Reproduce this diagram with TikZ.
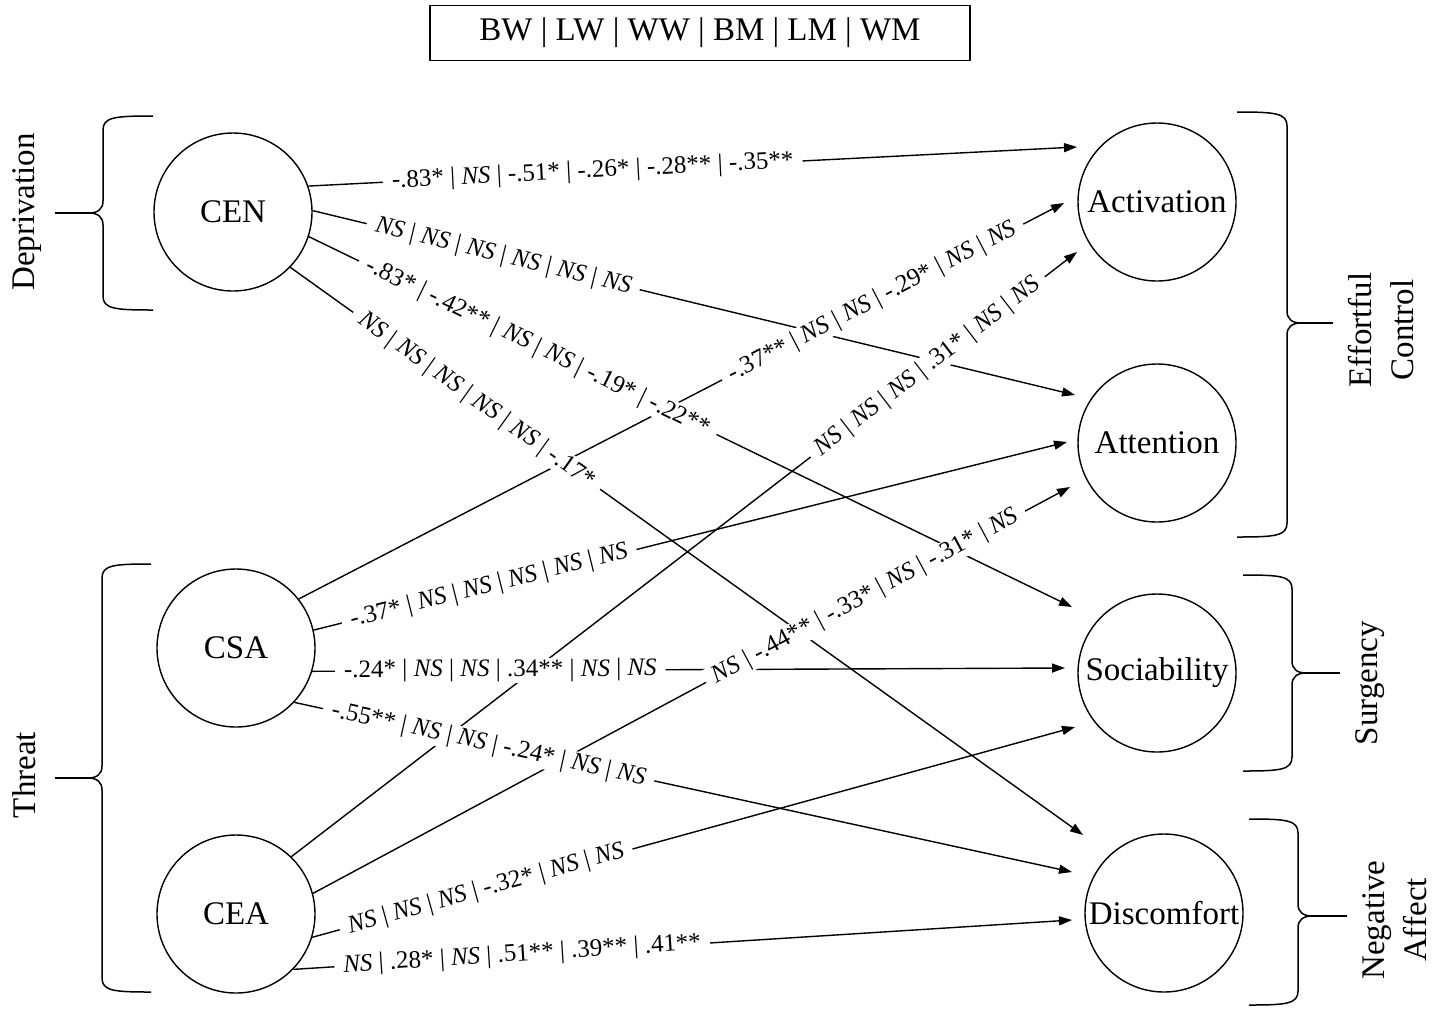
\documentclass[tikz,border=0pt]{standalone}
\usepackage{fontspec}
\setmainfont{Liberation Serif}
\usetikzlibrary{arrows.meta}
\newcommand{\NS}{\textit{NS}}
\newcommand{\mybraceL}[6]{% X, yT, yM, yB, xH, xP
 \draw[bracestyle] (#5,#2) .. controls ({#1+12},#2) and (#1,{#2+1}) .. (#1,{#2+14}) -- (#1,{#3-12}) .. controls (#1,{#3-4}) and ({#1-5},#3) .. ({#1-14},#3) .. controls ({#1-5},#3) and (#1,{#3+4}) .. (#1,{#3+12}) -- (#1,{#4-14}) .. controls (#1,{#4-1}) and ({#1+12},#4) .. (#5,#4);
 \draw[bracestyle,line width=2.2pt] ({#1-14},#3) -- (#6,#3);}
\newcommand{\mybraceR}[6]{% X, yT, yM, yB, xH, xP
 \draw[bracestyle] (#5,#2) .. controls ({#1-12},#2) and (#1,{#2+1}) .. (#1,{#2+14}) -- (#1,{#3-12}) .. controls (#1,{#3-4}) and ({#1+5},#3) .. ({#1+14},#3) .. controls ({#1+5},#3) and (#1,{#3+4}) .. (#1,{#3+12}) -- (#1,{#4-14}) .. controls (#1,{#4-1}) and ({#1-12},#4) .. (#5,#4);
 \draw[bracestyle,line width=2.2pt] ({#1+14},#3) -- (#6,#3);}
\begin{document}
\begin{tikzpicture}[x=1pt,y=-1pt,
  lv/.style={circle,draw,line width=1.4pt,minimum size=158pt,inner sep=0pt,font=\fontsize{33}{38}\selectfont},
  edgeln/.style={line width=1.4pt,-{Triangle[length=13pt,width=9pt]}},
  lab/.style={fill=white,inner xsep=9pt,inner ysep=1pt,font=\fontsize{25}{28}\selectfont,sloped},
  bracestyle/.style={line width=1.5pt},
  grp/.style={font=\fontsize{33}{42}\selectfont,rotate=90,align=center}]
\useasboundingbox (0,0) rectangle (1432,1013);

% title
\node[draw,line width=1.5pt,minimum width=540pt,minimum height=55pt,inner sep=0pt,font=\fontsize{33}{38}\selectfont] (title) at (700,33) {BW | LW | WW | BM | LM | WM};

% latent variables
\node[lv] (CEN) at (233,212) {CEN};
\node[lv] (CSA) at (236,648) {CSA};
\node[lv] (CEA) at (236,914) {CEA};
\node[lv] (Act) at (1157,202) {Activation};
\node[lv] (Att) at (1157,443) {Attention};
\node[lv] (Soc) at (1157,673) {Sociability};
\node[lv] (Dis) at (1164,913) {Discomfort};

% arrow tips near targets
\coordinate (tA1) at ([shift={(-80,-55)}]Act.center);
\coordinate (tA2) at ([shift={(-93,1)}]Act.center);
\coordinate (tA3) at ([shift={(-80,50)}]Act.center);
\coordinate (tT1) at ([shift={(-82,-48)}]Att.center);
\coordinate (tT2) at ([shift={(-90,-1)}]Att.center);
\coordinate (tT3) at ([shift={(-87,44)}]Att.center);
\coordinate (tS1) at ([shift={(-85,-66)}]Soc.center);
\coordinate (tS2) at ([shift={(-92,-5)}]Soc.center);
\coordinate (tS3) at ([shift={(-82,54)}]Soc.center);
\coordinate (tD1) at ([shift={(-81,-78)}]Dis.center);
\coordinate (tD2) at ([shift={(-92,-41)}]Dis.center);
\coordinate (tD3) at ([shift={(-92,7)}]Dis.center);

% connectors
\draw[edgeln] (CEN.19) -- (tA1);
\draw[edgeln] (CEN.1) -- (tT1);
\draw[edgeln] (CEN.-18) -- (tS1);
\draw[edgeln] (CEN.-44) -- (tD1);
\draw[edgeln] (CSA.38) -- (tA2);
\draw[edgeln] (CSA.13) -- (tT2);
\draw[edgeln] (CSA.-17) -- (tS2);
\draw[edgeln] (CSA.-43) -- (tD2);
\draw[edgeln] (CEA.46) -- (tA3);
\draw[edgeln] (CEA.15) -- (tT3);
\draw[edgeln] (CEA.-17) -- (tS3);
\draw[edgeln] (CEA.-44) -- (tD3);

% labels (on top of all lines)
\path (CEN.19) -- (tA1) node[lab,pos=0.37] (l1) {-.83* | \NS{} | -.51* | -.26* | -.28** | -.35**};
\path (CEN.1) -- (tT1) node[lab,pos=0.25] (l2) {\NS{} | \NS{} | \NS{} | \NS{} | \NS{} | \NS};
\path (CEN.-18) -- (tS1) node[lab,pos=0.30] (l3) {-.83* | -.42** | \NS{} | \NS{} | -.19* | -.22**};
\path (CEN.-44) -- (tD1) node[lab,pos=0.235] (l4) {\NS{} | \NS{} | \NS{} | \NS{} | \NS{} | -.17*};
\path (CSA.38) -- (tA2) node[lab,pos=0.75] (l5) {-.37** | \NS{} | \NS{} | -.29* | \NS{} | \NS};
\path (CSA.13) -- (tT2) node[lab,pos=0.233] (l6) {-.37* | \NS{} | \NS{} | \NS{} | \NS{} | \NS};
\path (CSA.-17) -- (tS2) node[lab,pos=0.25] (l7) {-.24* | \NS{} | \NS{} | .34** | \NS{} | \NS};
\path (CSA.-43) -- (tD2) node[lab,pos=0.25] (l8) {-.55** | \NS{} | \NS{} | -.24* | \NS{} | \NS};
\path (CEA.46) -- (tA3) node[lab,pos=0.81] (l9) {\NS{} | \NS{} | \NS{} | .31* | \NS{} | \NS};
\path (CEA.15) -- (tT3) node[lab,pos=0.73] (l10) {\NS{} | -.44** | -.33* | \NS{} | -.31* | \NS};
\path (CEA.-17) -- (tS3) node[lab,pos=0.228] (l11) {\NS{} | \NS{} | \NS{} | -.32* | \NS{} | \NS};
\path (CEA.-44) -- (tD3) node[lab,pos=0.294] (l12) {\NS{} | .28* | \NS{} | .51** | .39** | .41**};

% braces
\mybraceL{103}{116}{213}{310}{153}{55}
\mybraceL{102}{564}{778}{992}{151}{55}
\mybraceR{1287}{112}{323}{537}{1237}{1333}
\mybraceR{1292}{575}{673}{771}{1243}{1340}
\mybraceR{1298}{819}{916}{1005}{1249}{1347}

% group labels
\node[grp] (gDep) at (27,212) {Deprivation};
\node[grp] (gThr) at (24,775) {Threat};
\node[grp] (gEff) at (1381,330) {Effortful\\Control};
\node[grp] (gSur) at (1370,683) {Surgency};
\node[grp] (gNeg) at (1395,920) {Negative\\Affect};
\end{tikzpicture}
\end{document}
